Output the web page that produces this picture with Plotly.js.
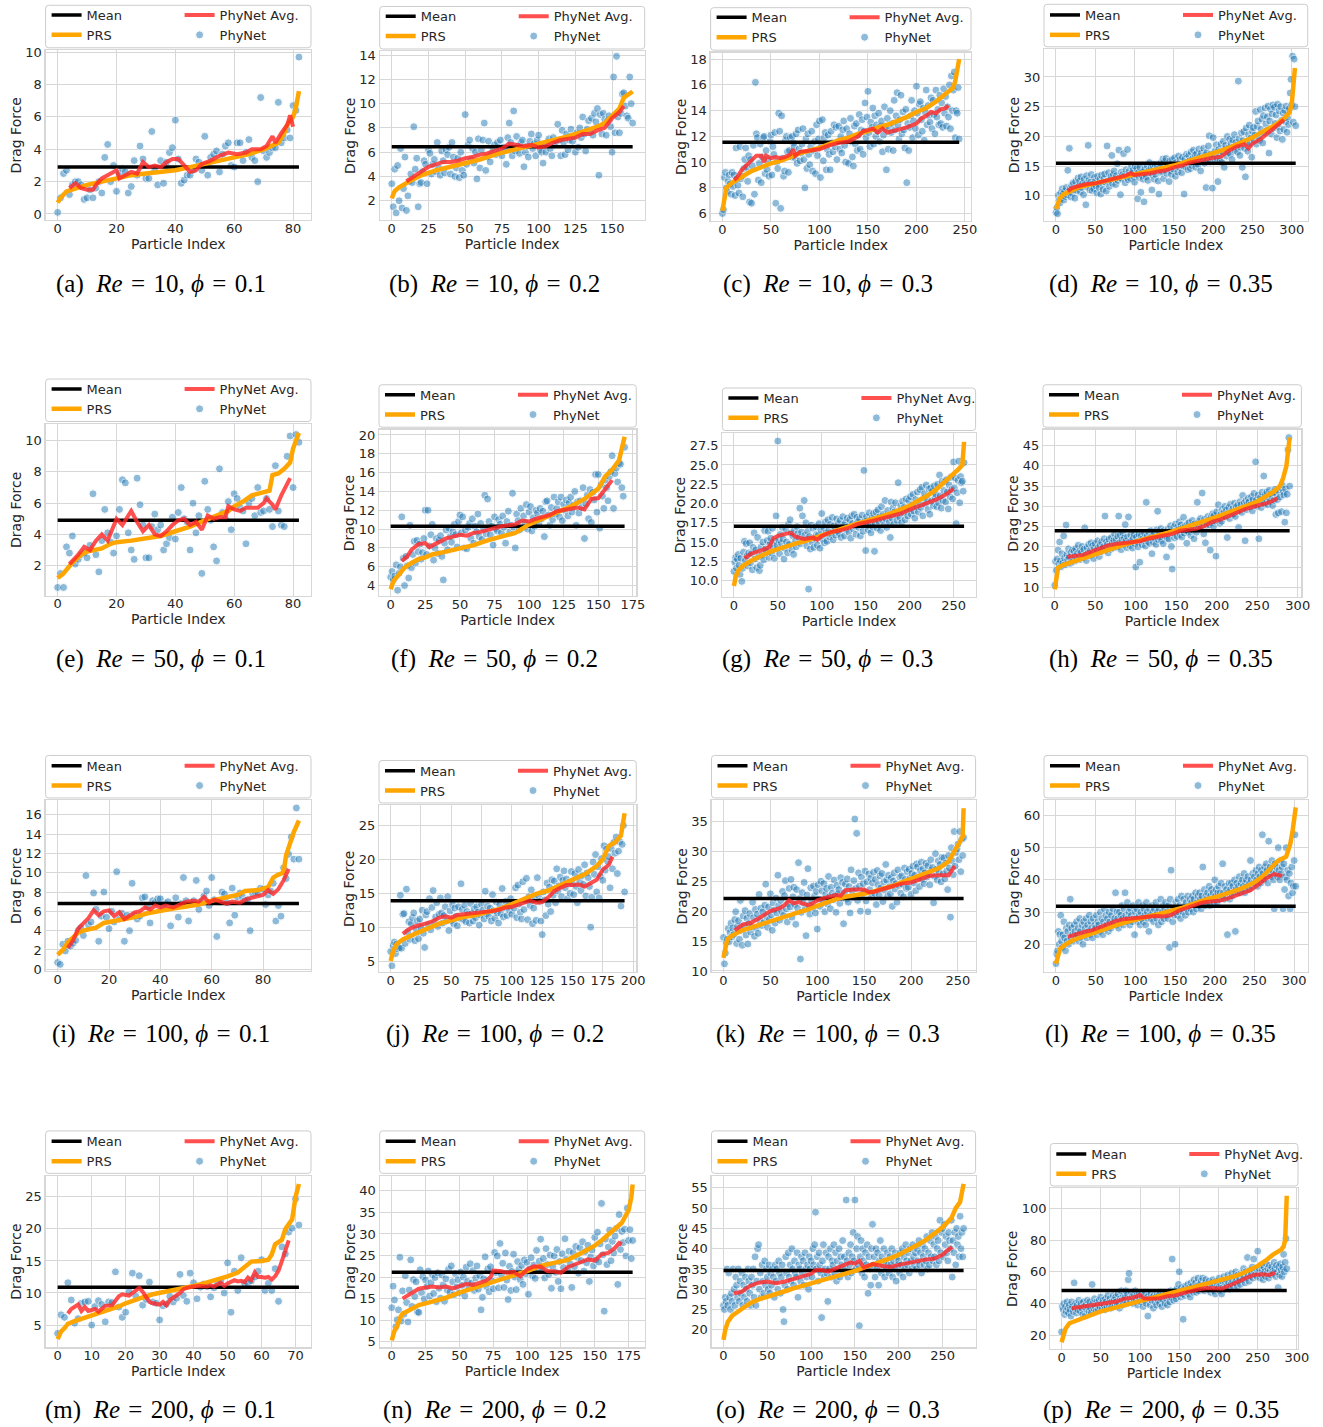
<!DOCTYPE html>
<html><head><meta charset="utf-8">
<script src="https://cdn.plot.ly/plotly-3.0.1.min.js"></script>
<style>body{margin:0;background:#fff}#chart{width:1323px;height:1427px}</style>
</head><body><div id="chart"></div>
<script>
// ---------------- DATA ----------------
const panel_letters = ['a','b','c','d','e','f','g','h','i','j','k','l','m','n','o','p'];
const panel_re = [10,10,10,10,50,50,50,50,100,100,100,100,200,200,200,200];
const panel_phi = ['0.1','0.2','0.3','0.35','0.1','0.2','0.3','0.35','0.1','0.2','0.3','0.35','0.1','0.2','0.3','0.35'];
const panel_mean = [2.9,6.45,11.55,15.5,4.9,10.3,17.05,24.0,6.8,13.9,22.1,31.8,10.9,21.1,34.6,48.2];

// (a) Re=10, phi=0.1
const a_phynet = [0.1,1.0,2.5,2.7,1.2,1.8,2.0,2.0,1.8,0.9,1.0,1.5,1.0,1.6,2.0,1.3,3.5,4.3,2.0,3.0,1.4,2.5,2.8,2.6,1.3,1.7,3.3,2.4,4.2,3.4,2.2,2.2,5.1,2.7,1.8,3.3,1.9,3.2,3.8,4.1,5.8,3.4,1.9,2.1,2.4,2.4,2.7,3.4,3.2,2.7,4.8,2.4,3.5,3.7,3.9,2.6,3.7,4.2,4.4,3.0,2.9,4.4,4.4,3.3,3.8,4.6,3.5,3.3,2.0,7.2,3.9,3.5,3.8,4.1,4.1,6.9,4.4,4.7,5.2,4.7,6.7,6.4,9.7];
const a_prs_x = [0,1,3,6,10,15,20,25,30,35,40,45,50,55,60,65,70,75,77,78,80,81,82];
const a_prs_y = [0.7,1.0,1.4,1.6,1.8,2.0,2.2,2.4,2.5,2.6,2.7,2.9,3.1,3.3,3.5,3.7,4.0,4.4,5.0,5.5,6.0,6.6,7.6];
const a_avg_x = [4,6,8,10,12,13,15,18,20,21,23,25,27,29,31,33,35,37,39,41,43,45,47,49,52,55,58,61,64,66,69,71,73,74,76,78,79,80];
const a_avg_y = [1.6,1.9,1.6,1.5,1.5,1.8,2.2,2.5,2.7,2.2,2.4,2.6,2.5,3.2,2.9,3.0,2.9,3.2,3.4,3.4,3.0,2.6,2.7,3.1,3.3,3.6,3.8,3.7,3.8,4.0,4.0,4.2,4.8,4.4,5.0,5.5,6.1,5.4];

// (b) Re=10, phi=0.2
const b_phynet = [3.4,1.5,4.6,1.0,4.9,2.0,6.3,1.4,3.0,5.6,1.2,2.4,3.6,4.2,3.5,8.1,4.6,5.5,1.5,3.4,3.5,4.4,5.3,5.0,3.4,6.2,5.9,4.2,5.0,5.4,4.4,6.8,4.7,4.1,6.1,5.3,4.3,6.2,5.8,6.4,4.2,6.8,5.6,4.0,4.7,5.5,3.9,6.0,4.5,4.1,9.1,5.0,6.6,7.0,5.4,6.3,5.1,6.0,3.8,7.1,4.7,6.2,7.0,8.4,4.5,5.6,6.9,5.2,5.9,6.3,6.6,5.8,6.8,6.0,7.0,5.7,6.4,6.2,5.0,7.2,8.4,6.8,5.7,9.4,6.1,7.3,6.5,5.9,6.8,7.0,4.8,6.0,6.5,5.6,6.9,7.5,6.3,6.7,5.7,7.0,7.4,6.2,6.0,5.1,6.6,6.0,6.8,7.1,6.3,5.7,7.2,6.6,6.9,8.3,7.0,5.7,7.8,6.8,5.8,7.5,6.2,7.0,7.9,6.9,7.3,6.0,7.6,6.4,8.0,7.2,8.9,7.5,6.1,7.9,8.6,7.7,8.8,7.4,9.2,8.5,9.6,4.1,9.1,7.5,9.2,8.7,7.4,8.6,9.0,8.1,6.0,12.2,7.6,13.9,8.9,7.6,9.2,10.8,10.9,9.8,9.0,8.8,12.2,10.0,8.4];
const b_prs_x = [0,2,5,10,15,20,25,30,40,50,60,70,80,90,100,110,120,130,140,145,150,155,158,162,164];
const b_prs_y = [2.2,2.8,3.1,3.5,3.8,4.1,4.3,4.5,4.8,5.1,5.4,5.8,6.1,6.4,6.7,7.0,7.3,7.7,8.1,8.4,9.0,9.6,10.5,10.9,11.0];
const b_avg_x = [10,15,20,25,30,35,40,45,50,55,60,65,70,75,80,85,90,95,100,105,110,115,120,125,130,135,140,145,150,155,158];
const b_avg_y = [3.6,4.0,4.4,4.8,5.0,5.2,5.2,5.3,5.5,5.6,5.8,5.9,6.1,6.3,6.7,6.6,6.5,6.6,6.4,6.5,6.8,7.0,7.1,7.2,7.5,7.5,7.8,8.0,8.8,9.3,9.8];

// (c) Re=10, phi=0.3
const c_phynet = [6.0,6.3,8.8,9.2,8.0,7.7,8.5,9.0,8.3,7.5,9.2,8.1,9.0,7.4,11.1,8.7,8.2,7.6,11.2,8.7,8.9,7.3,9.5,10.2,11.1,9.6,8.5,10.5,6.9,10.2,6.8,9.7,11.3,7.5,16.2,12.2,11.9,8.6,9.9,11.4,8.4,10.4,11.9,12.0,9.1,10.9,9.4,10.2,8.9,11.6,12.1,9.0,11.2,10.6,12.3,6.8,10.0,9.5,13.8,12.4,6.4,13.6,10.3,8.9,9.3,11.7,12.0,10.8,9.2,10.9,11.9,10.4,12.0,11.5,11.2,10.3,12.2,9.9,12.5,11.0,10.1,10.7,11.4,12.6,10.2,8.0,11.8,9.5,12.2,10.6,9.8,11.2,12.4,9.3,10.9,11.6,9.1,12.9,10.5,11.8,13.2,8.8,11.3,13.3,10.1,11.9,12.3,9.4,11.0,12.1,10.6,9.4,12.4,11.5,10.8,12.9,11.2,12.7,10.2,11.6,12.8,11.0,12.0,10.7,12.5,13.2,11.3,10.0,12.6,11.8,9.9,12.2,13.4,11.6,10.4,9.7,12.8,11.4,13.0,10.9,12.1,13.7,11.0,12.5,13.3,10.6,12.4,14.6,11.9,13.5,15.5,12.3,11.2,13.1,12.7,14.2,11.4,13.6,12.0,12.9,12.4,13.8,11.6,12.8,13.2,10.8,12.1,14.3,12.6,9.4,13.4,11.0,12.7,14.0,12.3,13.0,10.9,14.8,12.5,13.6,15.4,12.9,11.8,13.3,15.2,12.2,13.9,12.5,11.1,14.1,8.4,13.0,10.9,12.7,13.6,14.8,11.9,13.2,14.0,12.6,15.9,13.8,12.1,14.5,14.7,13.3,12.4,14.2,11.7,13.9,15.6,12.9,14.4,13.6,13.1,15.0,12.6,14.8,13.7,12.2,15.6,13.5,14.1,12.9,15.2,13.0,14.6,12.7,15.7,13.8,15.1,12.8,14.3,13.5,16.0,12.6,16.7,14.0,15.6,17.0,11.9,14.0,13.8,15.8,11.8];
const c_prs_x = [0,2,4,10,20,30,40,50,60,70,80,90,100,110,120,130,140,150,160,170,180,190,200,210,220,230,238,240,242,244];
const c_prs_y = [6.2,7.0,8.0,8.4,8.9,9.3,9.6,9.9,10.1,10.4,10.7,10.9,11.1,11.4,11.7,11.9,12.2,12.4,12.7,12.9,13.2,13.5,13.9,14.2,14.7,15.3,15.8,16.3,17.0,18.0];
const c_avg_x = [12,15,20,25,30,35,40,43,45,50,55,60,65,70,73,75,80,90,100,110,120,130,135,140,145,150,155,160,165,170,175,180,190,200,205,210,215,220,225,230,233];
const c_avg_y = [8.6,8.8,9.4,9.8,10.1,10.5,10.5,10.0,10.5,10.3,10.4,10.3,10.4,10.6,11.0,10.5,10.8,10.9,11.0,11.3,11.5,11.6,11.8,12.0,12.4,12.5,12.6,12.3,12.6,12.3,12.4,12.5,12.7,13.0,13.4,13.6,13.9,13.8,14.1,14.2,14.4];

// (d) Re=10, phi=0.35
const d_phynet = [7.2,8.0,7.0,10.1,9.2,8.8,10.5,9.6,11.2,10.3,9.3,10.8,9.9,11.4,10.2,14.3,10.6,18.0,11.1,9.8,11.8,10.4,12.2,11.0,9.6,12.4,11.3,10.9,13.0,11.6,12.5,10.7,13.2,11.4,12.1,10.2,12.8,11.9,8.5,13.4,11.5,18.5,12.6,11.0,12.3,13.6,10.9,12.0,11.2,13.1,12.4,11.7,10.5,13.3,12.0,11.4,12.8,10.3,13.5,12.2,11.1,12.9,13.7,12.3,10.8,18.4,12.5,13.9,11.6,12.7,13.3,16.8,12.1,13.6,14.2,12.8,11.9,13.4,15.4,12.6,17.7,13.0,10.2,14.0,12.9,13.6,17.1,13.3,12.2,14.4,13.1,17.8,12.7,14.1,13.5,12.9,15.0,13.8,14.3,13.2,12.3,15.0,13.6,14.6,9.5,13.9,13.1,14.8,10.6,13.4,14.0,12.8,9.0,14.5,13.7,13.2,15.1,12.6,14.2,15.6,13.9,14.7,11.0,13.5,14.9,12.8,15.3,13.6,14.4,15.1,12.5,10.3,14.8,15.5,13.9,14.1,16.2,12.9,15.8,14.4,16.3,13.8,15.1,14.7,12.4,15.9,14.2,13.6,16.1,15.0,14.5,16.4,13.3,15.6,15.2,14.0,16.7,14.8,16.1,15.3,13.9,16.5,15.0,10.3,16.2,14.9,17.0,15.7,14.4,16.8,15.9,14.6,17.4,15.1,16.3,17.7,15.4,16.9,14.8,17.1,16.0,15.3,17.9,16.6,14.2,17.2,15.8,16.4,18.0,15.5,16.9,11.4,17.3,16.1,18.4,20.1,15.7,17.0,16.5,11.3,19.8,16.8,17.5,15.9,18.6,16.3,12.4,17.8,17.1,16.0,18.7,15.6,17.4,19.2,14.8,17.9,18.5,16.7,20.0,17.3,18.1,19.5,17.0,18.8,16.1,19.4,18.2,20.3,17.6,19.0,18.5,17.4,29.3,19.6,16.8,18.2,20.6,14.8,19.3,20.8,18.0,13.2,21.4,19.0,17.5,20.3,21.9,18.8,19.7,16.5,20.9,21.5,19.4,20.2,24.2,18.7,21.7,22.6,20.0,19.3,24.5,21.2,22.9,18.9,23.5,20.6,24.8,22.1,21.0,23.3,25.1,17.2,22.6,24.6,20.4,23.8,25.3,21.4,24.9,22.2,23.6,19.8,25.4,21.6,24.3,20.9,25.0,22.7,19.5,23.9,21.2,24.4,22.5,25.1,20.7,23.0,22.0,24.7,27.3,29.6,25.3,33.5,22.4,33.0,25.0,21.8];
const d_prs_x = [0,2,5,10,20,30,40,50,60,70,80,90,100,110,120,130,140,150,160,170,180,190,200,210,220,230,240,250,260,270,280,290,297,300,302,304];
const d_prs_y = [7.8,8.5,9.6,10.3,11.0,11.5,11.8,12.1,12.4,12.7,13.0,13.3,13.6,13.9,14.1,14.4,14.7,15.1,15.5,15.9,16.3,16.7,17.2,17.6,18.1,18.6,19.2,19.8,20.6,21.3,22.0,23.0,24.0,25.5,28.0,31.5];
const d_avg_x = [15,20,30,40,50,60,70,80,90,95,100,110,120,130,140,150,160,170,180,190,200,210,220,230,240,245,250,260,270,280,290];
const d_avg_y = [10.8,11.3,11.7,12.0,12.1,12.4,12.8,13.1,13.5,13.8,13.5,13.6,13.8,14.1,14.3,14.8,15.1,15.6,15.9,16.2,16.4,16.6,17.6,18.3,18.7,18.0,18.8,19.5,20.6,21.7,22.8];

// (e) Re=50, phi=0.1
const e_phynet = [0.6,1.5,0.6,3.2,2.8,3.9,2.1,2.4,2.7,2.8,2.5,3.3,6.6,2.7,1.6,3.6,5.6,4.1,3.5,2.8,3.9,5.6,7.5,7.3,4.1,3.0,2.4,7.6,5.9,4.6,2.5,2.5,4.5,5.3,4.3,4.6,3.0,3.4,3.8,5.1,3.7,5.4,7.0,5.0,4.8,3.0,6.0,4.1,5.2,1.5,7.4,5.6,4.9,3.2,2.3,8.2,5.4,5.0,6.1,4.3,6.6,6.3,5.7,5.5,3.4,6.0,6.3,5.2,7.0,5.4,5.5,6.3,5.6,4.5,8.4,5.5,4.6,4.5,9.0,10.3,7.0,10.4,9.9];
const e_prs_x = [0,2,5,8,10,15,18,20,25,28,30,35,40,45,50,55,58,60,63,66,70,72,73,75,77,79,80,81,82];
const e_prs_y = [1.2,1.5,2.2,2.7,2.9,3.1,3.4,3.5,3.6,3.7,3.8,3.9,4.2,4.5,4.9,5.3,5.5,5.8,6.1,6.5,6.7,6.8,7.8,7.9,8.2,8.6,9.5,10.0,10.5];
const e_avg_x = [4,7,9,11,13,15,17,19,20,22,25,27,29,31,33,35,37,39,41,43,45,47,49,51,53,55,57,58,60,62,64,66,68,70,71,73,74,76,78,79];
const e_avg_y = [2.1,2.7,3.2,3.0,3.6,4.0,3.6,4.6,5.0,4.6,5.5,4.8,4.2,4.6,4.0,3.9,4.2,4.6,4.9,5.0,4.6,4.8,4.3,5.2,5.0,5.1,5.1,5.8,5.6,5.5,5.7,5.7,5.7,6.0,6.3,5.9,5.6,6.5,7.3,7.6];

// (f) Re=50, phi=0.2
const f_phynet = [4.9,5.5,4.6,5.0,6.2,3.5,5.3,6.0,11.3,6.9,4.0,7.1,6.1,4.8,10.4,5.9,7.3,8.7,6.4,8.8,7.6,8.4,6.8,7.5,9.0,12.0,7.3,12.0,8.2,9.4,10.5,6.7,8.0,9.0,7.4,8.8,9.3,7.1,4.6,8.5,9.9,7.8,10.1,9.2,8.6,9.7,10.5,9.4,8.1,10.8,11.5,9.6,11.3,8.0,9.9,7.9,10.2,10.6,9.0,11.1,8.5,10.3,9.7,11.6,9.2,10.6,8.9,10.1,13.6,9.5,13.2,10.8,9.4,10.3,8.3,11.3,10.0,9.8,11.0,10.5,9.6,11.4,10.2,8.5,10.8,11.9,9.7,10.4,13.8,10.2,8.0,11.6,10.9,9.9,12.2,10.1,11.4,10.7,12.6,10.0,11.8,12.4,9.8,11.2,10.3,12.0,11.7,10.6,12.2,11.1,11.9,9.2,12.9,13.0,11.5,10.4,12.3,11.0,13.4,11.6,12.2,12.9,11.3,13.4,10.9,12.6,12.0,13.1,11.4,12.8,13.4,11.8,12.5,14.0,10.4,12.9,11.7,13.0,12.3,14.4,9.0,12.7,13.6,11.1,14.2,10.7,13.9,13.1,15.8,11.8,15.8,10.1,14.7,13.5,12.2,15.2,14.4,13.0,15.6,16.1,17.8,12.2,15.9,16.5,15.0,17.0,16.9,14.4,13.5,18.7];
const f_prs_x = [0,2,5,10,15,20,25,30,40,50,60,70,80,90,100,110,120,130,140,150,155,160,165,169];
const f_prs_y = [3.6,4.5,5.0,5.9,6.4,6.8,7.0,7.3,7.6,7.9,8.3,8.8,9.2,9.6,10.5,11.1,11.8,12.4,13.2,14.3,15.6,16.3,17.3,19.8];
const f_avg_x = [8,12,15,20,25,28,32,35,40,45,50,55,60,65,70,75,80,85,90,95,100,105,110,115,120,125,130,135,140,145,150,155,160];
const f_avg_y = [6.6,7.1,7.8,8.4,8.5,8.1,8.4,8.6,9.0,9.2,9.4,9.3,9.6,9.7,9.9,10.2,10.3,10.4,10.5,10.9,10.8,11.1,11.3,11.5,11.9,12.0,12.1,12.3,12.1,13.2,13.3,14.2,15.2];

// (g) Re=50, phi=0.3
const g_phynet = [11.2,12.4,13.0,11.6,12.8,13.4,12.0,10.8,12.9,9.9,11.6,13.7,15.1,12.6,14.8,13.2,11.9,13.6,14.9,12.3,13.5,11.4,14.3,16.2,12.8,14.0,11.7,15.6,13.1,11.3,12.0,14.4,13.3,15.0,12.7,16.5,14.1,13.8,15.2,16.4,13.0,14.7,15.5,13.6,16.8,14.3,12.9,15.1,18.4,14.6,28.1,15.3,13.5,16.0,14.9,16.9,15.4,12.8,14.2,16.7,15.0,13.6,17.3,14.7,17.9,16.2,14.0,15.8,13.4,16.6,15.1,14.4,17.0,16.1,15.6,19.4,14.8,16.3,18.4,15.2,20.4,15.9,17.5,14.5,16.4,8.9,15.7,14.1,17.2,15.0,16.8,14.3,15.5,17.0,16.0,14.6,15.9,17.4,14.2,16.6,18.7,15.4,16.9,14.9,17.6,16.2,15.1,17.9,16.5,15.7,17.3,16.0,18.2,15.3,17.1,16.8,15.9,18.0,16.4,17.4,16.1,17.8,15.6,16.9,18.3,17.2,15.8,17.5,16.6,18.1,17.0,16.3,17.9,15.5,18.4,17.4,16.7,18.6,17.1,16.0,18.2,17.6,16.9,18.0,15.8,17.3,18.5,16.4,24.3,17.7,13.9,18.3,17.2,16.6,18.8,17.5,16.2,18.1,17.0,18.7,13.8,17.4,18.9,16.8,19.2,17.7,18.3,16.5,19.6,17.9,18.6,17.2,20.4,18.0,16.9,19.1,18.4,17.6,15.6,20.2,18.1,19.4,17.3,18.9,20.1,18.5,17.8,22.7,19.0,18.2,19.7,17.5,20.3,18.8,19.5,17.9,20.6,19.2,18.4,20.4,19.3,20.9,18.6,19.8,21.2,19.0,18.1,20.5,19.6,21.5,18.9,20.2,21.8,19.5,22.1,18.4,20.7,21.3,19.9,22.4,20.6,19.2,21.9,18.6,22.0,20.3,21.6,19.7,22.3,20.8,21.2,19.6,22.5,20.1,23.7,21.0,19.4,22.9,20.4,21.7,22.8,20.2,23.1,21.5,19.3,22.4,20.9,23.4,21.8,20.6,25.4,22.0,23.3,17.4,21.4,23.0,25.5,20.1,23.5,22.7,22.9,21.6,25.3];
const g_prs_x = [0,2,5,10,20,30,40,50,60,70,80,90,100,110,120,130,140,150,160,170,180,190,200,210,220,230,240,250,256,260,262];
const g_prs_y = [9.3,10.5,11.3,11.9,12.6,13.2,13.7,14.1,14.5,14.8,15.1,15.5,15.8,16.2,16.6,17.0,17.4,17.7,18.0,18.4,18.8,19.2,19.7,20.4,21.0,21.8,22.8,23.8,24.5,25.0,28.0];
const g_avg_x = [12,20,30,40,45,50,60,65,70,75,80,90,95,100,110,120,130,140,150,160,170,180,190,200,210,220,230,240,250];
const g_avg_y = [12.9,13.5,13.9,14.3,15.5,15.8,16.1,16.2,15.7,15.5,15.4,15.6,15.3,15.8,16.3,16.5,16.8,17.3,17.5,17.8,18.1,18.4,18.7,19.2,19.6,20.1,20.5,21.1,21.9];

// (h) Re=50, phi=0.35
const h_phynet = [10.5,16.4,14.2,17.0,19.2,15.8,21.2,16.5,15.1,18.3,16.0,22.7,17.2,15.6,25.4,18.1,16.8,19.5,17.4,15.9,18.6,17.0,19.2,16.4,18.9,17.7,19.6,16.7,18.3,20.4,17.5,19.0,16.9,18.7,20.1,17.3,19.4,24.7,18.0,16.6,19.8,18.4,20.6,17.8,19.1,21.0,18.2,20.3,17.1,19.7,20.8,18.6,19.3,21.5,19.9,17.6,20.4,18.8,21.2,19.6,20.0,22.0,27.6,19.2,21.3,20.6,18.5,21.9,20.2,19.4,22.3,20.9,19.7,21.6,23.2,20.4,21.8,19.9,22.6,27.6,21.0,22.8,19.3,21.7,23.5,20.6,22.2,25.5,21.4,19.8,22.5,27.4,21.1,20.3,22.9,21.6,19.7,22.1,23.0,20.8,15.0,22.4,21.2,20.0,23.1,16.2,21.7,22.8,20.5,22.0,21.5,23.4,20.2,31.0,22.6,21.3,23.7,20.9,22.3,24.0,18.3,22.8,21.1,23.5,22.0,20.6,24.2,28.8,21.8,23.0,22.4,24.5,21.5,23.3,20.8,24.0,22.7,23.6,17.5,22.1,24.4,21.9,23.8,25.2,20.1,14.5,23.5,24.8,22.2,25.6,23.9,22.6,25.0,24.3,26.2,23.0,25.4,22.4,24.7,27.3,23.4,25.1,24.0,20.9,25.8,23.7,26.0,24.6,22.8,25.3,26.5,24.1,22.0,25.7,24.4,23.6,31.0,24.9,26.3,25.0,27.0,24.6,33.3,25.9,23.2,26.8,21.0,26.1,25.3,27.5,26.6,25.4,19.2,27.3,26.0,28.2,25.1,27.8,26.4,17.7,28.7,26.9,30.4,27.1,25.8,28.0,26.3,29.3,27.6,28.5,30.0,27.4,29.1,22.3,28.3,29.7,27.0,30.5,28.6,27.9,29.4,28.1,30.8,27.5,29.9,28.8,30.3,24.8,29.0,31.2,30.4,28.5,32.7,29.6,30.9,21.5,31.4,29.2,30.7,32.0,31.1,29.8,30.4,32.4,28.9,31.7,33.2,30.3,41.0,31.6,30.0,32.8,22.0,31.3,32.2,29.7,33.5,31.0,37.5,30.6,32.9,31.8,33.6,30.4,32.1,34.0,31.2,33.1,32.6,30.2,33.4,31.5,34.2,28.0,33.0,31.7,28.4,33.8,32.3,34.6,28.7,35.2,33.5,32.8,26.1,34.3,28.4,33.0,44.0,47.0,35.0];
const h_prs_x = [0,2,4,10,20,30,40,50,60,70,80,90,100,110,120,130,140,150,160,170,180,190,200,210,220,230,240,250,260,270,278,282,286,288,290];
const h_prs_y = [9.5,13.0,14.8,15.5,16.2,16.9,17.6,18.3,19.0,19.6,20.2,20.8,21.3,21.8,22.4,23.0,23.5,24.1,24.7,25.3,26.0,26.7,27.4,28.1,28.8,29.6,30.4,31.2,32.5,33.6,35.0,37.0,40.0,44.0,47.0];
const h_avg_x = [15,25,35,45,55,65,75,85,95,105,115,125,135,145,155,165,175,185,195,205,215,225,235,245,255,265,275];
const h_avg_y = [17.5,17.8,18.0,18.8,19.5,20.3,20.7,21.0,21.2,21.4,22.0,22.5,22.8,23.2,24.0,24.2,24.5,25.2,26.2,26.8,27.7,28.5,29.3,29.9,30.5,31.0,32.0];

// (i) Re=100, phi=0.1
const i_phynet = [0.7,0.5,2.6,1.9,2.9,2.4,2.7,3.0,4.0,4.3,3.5,9.7,4.6,4.9,7.9,6.2,2.9,5.5,8.0,5.4,4.2,6.0,4.9,10.1,5.2,5.8,2.9,5.6,4.0,8.9,5.6,5.2,5.5,7.4,7.5,6.5,4.8,7.1,6.9,7.3,7.3,6.5,6.8,7.0,4.5,6.6,7.4,5.4,6.8,9.5,7.1,5.0,6.8,7.1,9.2,6.2,7.0,7.6,8.1,6.6,9.5,7.2,3.4,7.0,8.0,7.8,6.9,4.8,8.4,5.6,7.5,7.9,7.5,7.1,7.2,4.0,7.8,8.0,7.9,8.4,8.3,6.7,7.7,8.1,8.9,5.0,6.6,5.5,10.5,9.4,11.9,13.7,11.4,16.7,11.4];
const i_prs_x = [0,2,4,6,8,10,12,15,18,20,25,30,35,40,45,50,55,60,65,70,73,78,82,84,86,88,89,90,92,94];
const i_prs_y = [1.5,2.0,2.8,3.3,3.8,4.0,4.1,4.3,4.8,4.9,5.1,5.4,5.8,6.1,6.3,6.5,6.7,7.1,7.4,7.7,8.1,8.2,8.5,9.5,9.8,10.0,11.8,12.6,14.2,15.4];
const i_avg_x = [4,6,8,10,12,14,16,18,20,22,24,26,28,30,32,34,36,38,40,42,45,48,50,53,55,57,59,61,63,66,68,71,74,77,80,82,84,86,88,90];
const i_avg_y = [2.2,3.0,4.2,4.8,5.3,6.1,5.6,6.0,6.1,5.5,5.9,5.2,5.5,5.9,6.0,6.4,6.2,6.6,6.4,6.6,6.4,6.7,7.0,7.1,7.0,7.5,6.9,7.2,7.0,6.8,7.0,6.9,7.3,7.5,7.7,8.2,7.8,8.3,9.2,10.4];

// (j) Re=100, phi=0.2
const j_phynet = [6.4,4.3,7.3,7.8,6.1,7.5,6.8,7.0,14.7,6.9,11.9,12.0,7.6,15.6,9.3,10.8,8.2,10.5,11.4,12.1,8.0,9.7,10.9,8.3,11.2,10.0,12.5,9.1,7.0,11.8,12.3,10.4,14.2,9.6,12.9,15.4,10.7,11.5,13.6,10.1,11.9,14.3,12.1,10.6,11.7,13.0,10.9,14.5,9.5,12.4,11.0,13.3,10.5,12.8,11.6,10.2,13.0,11.3,16.4,12.6,11.1,13.2,10.8,12.3,11.9,10.6,13.5,12.0,10.9,12.7,11.4,13.0,12.2,10.3,11.8,13.4,12.5,11.2,15.3,12.0,13.1,11.6,12.8,10.9,14.8,12.4,11.3,13.7,12.1,10.6,13.3,12.0,15.7,11.5,12.9,13.8,11.7,13.1,12.5,14.2,11.9,13.6,12.8,15.8,11.4,16.2,13.4,12.2,11.2,16.7,12.6,13.9,17.2,11.1,14.5,13.2,15.5,10.5,12.8,14.1,11.0,17.3,14.6,13.8,10.9,8.9,15.2,14.0,11.7,16.5,13.4,15.9,12.3,17.0,14.7,16.8,13.6,18.6,15.3,16.1,17.4,14.5,16.9,18.3,15.8,17.1,14.2,16.6,15.0,18.2,16.4,14.8,17.9,16.0,13.6,18.5,16.7,15.4,17.6,16.3,19.2,14.6,18.0,17.3,16.0,10.0,14.4,19.6,17.8,20.7,15.2,18.9,14.3,17.5,20.1,16.9,22.0,18.4,21.5,19.7,20.4,15.8,21.6,18.6,22.5,20.9,23.3,17.9,21.2,22.6,13.1,22.2,25.0,15.2];
const j_prs_x = [0,2,5,10,20,30,40,50,60,70,80,90,100,110,120,130,140,150,160,170,175,180,185,190,193];
const j_prs_y = [5.0,6.5,7.5,8.2,9.0,9.8,10.5,11.0,11.5,11.8,12.2,12.7,13.4,14.1,14.9,15.4,16.2,17.0,17.8,19.0,20.0,22.0,22.5,23.5,26.8];
const j_avg_x = [10,15,20,25,30,35,40,45,50,55,60,65,70,75,80,85,90,95,100,105,110,115,120,125,130,135,140,145,150,155,160,165,170,175,180,183];
const j_avg_y = [9.0,9.7,10.1,10.3,10.6,10.9,11.4,11.6,11.4,11.8,11.9,11.9,12.1,12.1,12.3,12.4,12.6,12.9,13.0,13.3,13.5,13.9,13.6,13.7,14.4,15.3,15.8,16.2,16.2,16.3,16.0,16.5,17.0,18.5,19.2,20.4];

// (k) Re=100, phi=0.3
const k_phynet = [15.6,11.2,13.0,14.8,15.3,17.1,14.9,16.4,18.0,15.7,17.2,16.1,18.6,19.9,14.6,17.5,18.4,15.3,21.8,16.8,14.3,19.2,17.6,20.1,16.0,18.8,14.5,17.9,19.6,16.5,17.4,21.5,18.9,15.8,20.3,17.2,19.5,16.3,22.8,18.4,20.5,17.6,19.9,18.1,21.0,24.5,19.1,17.3,20.7,18.6,22.9,19.4,16.8,21.4,20.2,18.0,22.2,19.7,26.0,20.9,18.5,21.8,20.0,23.3,19.3,22.6,25.1,20.4,18.2,21.2,23.8,20.7,25.3,19.0,22.4,24.0,21.1,17.8,23.6,20.5,28.1,22.1,12.0,19.8,23.1,21.4,24.8,20.3,15.9,22.7,27.1,21.0,19.5,23.9,21.7,20.6,24.2,22.5,19.7,23.3,17.0,24.4,22.0,20.8,25.0,23.4,21.6,24.6,19.9,22.8,23.8,21.2,25.8,22.4,20.4,24.0,23.0,21.9,25.2,22.6,19.8,24.3,22.9,23.6,21.3,25.6,22.2,24.8,17.9,23.1,24.5,22.0,25.4,21.5,24.1,19.7,26.9,23.4,22.3,25.1,35.4,23.8,33.0,21.8,26.4,24.2,20.0,25.7,22.9,24.6,23.2,26.7,21.7,24.9,19.9,26.2,23.6,25.5,22.4,24.7,26.5,23.0,25.3,21.1,26.8,24.4,22.7,25.9,23.9,26.3,21.6,24.9,23.5,27.8,25.2,22.5,26.0,24.1,22.9,25.6,20.8,25.0,26.4,23.7,24.6,21.5,26.9,24.3,25.7,23.0,25.9,24.5,22.4,27.2,25.3,23.8,26.6,24.0,27.0,25.5,22.8,26.3,27.5,24.7,26.0,23.4,27.9,27.4,25.6,24.1,26.8,28.2,25.3,27.1,24.6,26.4,28.0,25.7,27.6,26.1,24.4,28.6,26.9,27.3,21.4,25.8,29.6,27.0,25.2,28.4,26.5,27.8,24.9,29.0,26.2,28.9,25.4,28.0,26.7,23.6,29.3,27.2,19.0,30.6,28.4,26.1,33.3,27.5,29.8,30.4,31.2,28.6,33.3,26.6,32.0,29.3,32.3];
const k_prs_x = [0,2,4,10,20,30,40,50,60,70,80,90,100,110,120,130,140,150,160,170,180,190,200,210,220,230,240,248,253,255,256];
const k_prs_y = [12.2,14.0,15.3,16.0,16.8,17.3,17.8,18.3,18.8,19.3,19.7,20.3,20.9,21.5,22.0,22.4,22.6,22.9,23.3,23.7,24.2,24.8,25.4,25.9,26.6,27.2,28.3,30.5,31.5,32.4,37.2];
const k_avg_x = [12,20,30,40,50,60,65,70,75,80,90,95,100,110,120,125,130,140,150,155,160,170,180,190,200,210,220,230,240,245,247];
const k_avg_y = [16.8,17.7,18.1,19.0,20.0,20.5,21.0,21.8,21.3,21.5,21.0,21.3,21.8,22.3,22.7,22.6,23.5,23.6,23.6,23.2,23.2,23.7,24.2,24.6,24.8,25.3,25.9,26.0,26.0,27.2,27.5];

// (l) Re=100, phi=0.35
const l_phynet = [14,17,18,24,20,23,29,21,19,23,27,22,18,25,21,24,20,26,34,22,25,23,21,26,24,22,27,23,25,21,28,24,22,26,20,27,23,25,28,22,26,24,29,23,27,25,22,28,24,26,25,29,23,27,26,24,30,25,28,23,27,31,25,29,26,28,24,30,27,25,29,26,31,27,28,36,26,30,28,25,30,27,29,32,28,26,31,36,29,27,33,28,30,26,31,29,27,32,28,23,30,28,31,27,33,29,26,30,28,32,27,31,29,26,33,30,28,24,31,29,28,32,30,27,31,29,33,28,30,26,31,29,34,27,30,32,28,31,33,29,30,28,32,19,34,43,30,27,31,29,20,33,31,29,34,30,32,28,35,31,30,34,32,29,33,31,35,30,32,34,31,33,35,30,34,32,36,31,33,35,32,36,34,31,35,44,33,37,32,35,34,36,33,38,32,35,37,34,36,33,40,35,37,33,36,38,34,36,39,35,45,36,34,38,35,37,23,36,39,34,37,39,35,38,36,40,24,37,39,36,38,41,36,39,37,40,38,42,36,39,40,38,41,37,39,46,40,38,42,39,41,39,43,40,38,42,44,41,39,43,54,42,40,44,41,45,43,39,52,42,44,41,46,43,40,31,45,42,44,41,50,43,40,46,42,44,31,45,37,41,50,40,43,35,42,31,39,44,36,38,46,54,38];
const l_prs_x = [0,2,5,10,20,30,40,50,60,70,80,90,100,110,120,130,140,150,160,170,180,190,200,210,220,230,240,250,260,270,280,290,295,298,300,302];
const l_prs_y = [14.0,16.5,18.5,19.6,21.1,22.1,23.0,23.9,24.7,25.5,26.3,27.0,27.7,28.3,28.9,29.4,30.0,30.7,31.4,32.3,33.2,34.0,34.6,35.3,36.0,37.0,38.0,39.2,41.0,43.5,46.0,47.2,51.0,55.0,60.0,62.5];
const l_avg_x = [15,25,35,45,55,65,75,85,95,105,115,125,135,145,155,165,175,185,195,205,215,225,235,245,255,265,275,285];
const l_avg_y = [22.3,23.2,23.8,24.3,25.3,26.5,27.2,27.8,28.0,28.4,28.6,28.8,28.6,29.1,30.5,31.3,32.3,33.0,33.3,33.5,34.1,35.0,35.8,36.8,38.5,40.5,41.8,41.2];

// (m) Re=200, phi=0.1
const m_phynet = [3.7,6.6,6.2,11.6,8.9,5.3,6.0,8.4,8.6,8.7,5.0,7.9,8.8,8.2,5.5,8.6,8.5,13.3,7.8,6.2,7.0,10.2,13.1,9.5,12.7,8.1,9.0,11.7,8.6,8.4,5.8,8.0,8.3,9.5,8.6,9.2,12.9,9.6,8.7,13.1,11.6,9.1,10.9,11.4,11.0,9.4,10.8,11.3,11.9,10.0,14.7,7.0,13.4,10.4,15.5,11.5,11.5,11.9,12.5,13.4,15.2,10.4,11.5,10.4,13.8,8.7,17.2,16.1,19.5,20.1,24.7,20.6];
const m_prs_x = [0,1,2,3,5,8,10,13,15,18,20,23,25,28,30,33,35,38,40,43,45,48,50,53,55,57,60,62,63,64,66,67,69,70,71];
const m_prs_y = [2.8,4.0,4.5,5.2,5.6,6.1,6.5,7.0,7.4,7.9,8.4,9.0,9.3,9.8,10.0,10.3,10.5,10.9,11.1,11.5,11.8,12.3,12.6,13.2,14.1,14.9,15.0,15.2,16.0,17.6,18.3,20.0,21.5,25.0,27.0];
const m_avg_x = [3,4,6,7,8,9,11,12,14,16,18,19,21,23,24,25,27,28,30,31,32,33,34,36,37,38,40,42,44,45,46,48,49,50,52,53,54,55,56,57,58,59,60,61,62,63,64,65,66,67,68];
const m_avg_y = [6.8,7.5,8.2,7.2,7.8,7.2,7.5,7.1,8.0,8.1,9.5,9.8,9.6,10.5,10.8,10.2,8.6,8.4,8.2,8.6,8.1,8.9,9.3,10.0,10.6,10.8,11.0,11.1,11.0,11.2,11.0,11.6,11.1,11.5,12.0,11.8,11.9,11.7,12.4,12.0,13.2,12.5,12.5,12.4,12.5,12.1,12.6,13.5,15.0,16.5,18.2];

// (n) Re=200, phi=0.2
const n_phynet = [12.9,17.9,14.7,8.5,10.1,12.4,24.6,9.8,16.8,11.4,20.3,14.1,9.6,17.0,24.0,13.2,19.4,15.5,18.9,11.9,11.8,21.7,16.4,20.1,14.9,19.3,17.8,21.4,15.6,18.7,20.6,16.2,19.9,14.3,21.0,17.4,15.1,20.5,18.2,14.4,19.6,17.0,21.8,16.5,22.6,18.9,15.9,20.8,17.7,19.4,16.3,21.2,18.1,20.0,15.6,22.3,19.0,17.4,23.1,18.6,21.5,16.9,19.8,22.6,17.2,20.4,12.4,15.3,19.6,24.7,17.8,21.9,16.6,22.4,19.1,17.3,25.7,21.0,24.9,17.5,27.8,20.6,23.2,17.6,25.6,19.3,14.8,22.5,16.9,21.3,25.3,20.0,17.1,23.6,21.8,19.4,22.7,18.3,24.0,20.8,23.4,16.0,21.9,24.5,20.3,22.8,19.7,26.2,22.1,23.7,28.8,21.5,24.3,19.8,26.6,22.9,20.6,25.1,17.4,22.4,24.9,21.1,26.4,19.0,23.6,17.3,25.4,22.2,28.9,24.1,21.7,26.0,23.0,17.6,25.7,22.4,27.1,24.6,20.9,26.8,23.8,28.2,21.4,25.9,23.3,27.4,19.0,24.7,26.3,22.6,29.2,24.0,30.4,23.5,27.7,37.1,25.2,12.1,28.8,22.9,27.0,30.9,23.8,28.3,25.6,29.5,31.3,18.3,34.5,26.4,30.6,28.0,31.1,24.9,36.0,28.5,31.0,24.3,28.5];
const n_prs_x = [0,2,4,6,8,12,20,30,40,50,60,70,80,90,100,110,120,130,140,150,155,160,165,170,175,177,178];
const n_prs_y = [5.3,7.5,8.6,10.5,11.5,12.2,13.5,14.3,15.2,16.4,17.4,18.4,19.3,20.2,21.4,22.6,23.3,24.0,25.6,27.3,28.5,29.8,31.0,32.6,35.5,38.5,41.5];
const n_avg_x = [8,12,15,20,25,30,35,40,45,50,55,60,65,70,73,75,80,85,90,95,100,105,110,115,120,125,130,135,140,145,150,155,160,165,168,170];
const n_avg_y = [15.0,15.7,16.3,17.3,17.6,17.8,17.6,17.8,17.4,18.0,18.4,18.2,18.8,19.2,20.0,21.5,21.4,21.0,21.2,20.2,21.8,22.5,22.4,21.4,21.3,21.0,22.3,23.0,23.5,24.1,23.8,25.3,25.6,26.8,27.9,27.6];

// (o) Re=200, phi=0.3
const o_phynet = [26,25,28,27,35,26,34,28,25,29,27,35,30,26,33,31,28,35,27,32,29,34,26,31,28,33,30,27,35,32,29,26,33,31,35,28,38,26,32,40,41,30,34,28,36,32,29,37,31,35,33,30,36,29,34,31,35,33,28,36,32,35,30,37,34,29,33,36,25,22,31,38,34,30,39,33,36,32,40,35,31,37,34,33,39,28,36,35,32,38,34,37,31,39,35,33,36,30,38,35,37,33,40,36,41,49,35,38,32,39,36,34,23,37,41,33,35,39,34,27,38,35,40,33,37,36,41,34,39,32,37,35,40,33,38,36,42,34,38,35,52,37,33,39,36,41,34,38,44,37,52,35,40,43,36,21,38,42,34,40,37,33,39,36,41,29,38,35,31,40,46,36,38,33,40,35,39,31,37,42,34,38,36,40,33,37,35,39,36,34,38,36,40,33,37,35,39,32,38,36,37,34,39,36,40,33,38,35,41,37,36,39,34,40,37,35,41,38,36,39,35,40,37,42,36,39,34,41,38,36,40,37,43,35,39,36,42,38,44,37,41,38,43,36,40,42,37,47,39,44,45,38,46,41,43,39,37,44,42,40,47,33,42,39,44,36,45,41,43,38,48,40,44,38,45];
const o_prs_x = [0,2,5,10,20,30,40,50,60,70,80,90,100,110,120,130,140,150,160,170,180,190,200,210,220,230,240,250,260,265,270,274];
const o_prs_y = [17.5,20.0,22.0,23.5,25.0,26.5,27.5,28.1,28.8,29.5,30.2,30.8,31.4,32.0,32.6,33.2,33.8,34.5,35.3,36.0,36.8,37.6,38.5,39.5,40.8,42.0,43.5,45.3,47.5,50.0,51.5,56.0];
const o_avg_x = [12,20,30,40,50,60,70,80,90,100,105,110,120,130,140,145,150,155,160,170,180,190,200,210,220,230,240,250,255,261];
const o_avg_y = [29.0,29.3,30.8,31.6,31.9,31.5,31.9,32.5,33.3,33.8,34.7,34.8,34.4,35.2,36.0,36.6,36.3,37.0,35.4,36.2,35.8,35.5,36.0,36.5,37.0,37.3,37.5,38.5,39.5,40.4];

// (p) Re=200, phi=0.35
const p_phynet = [22,38,36,40,33,38,35,41,37,34,39,36,32,41,38,35,53,37,40,34,39,36,42,38,35,40,37,33,41,38,32,39,36,42,38,35,41,37,34,52,40,37,43,38,35,41,39,36,42,38,44,40,37,42,39,36,43,41,38,45,40,38,43,37,41,39,45,42,38,44,41,39,46,40,37,43,48,42,39,45,42,44,48,40,46,55,59,43,41,47,44,40,46,42,48,43,45,39,44,47,43,41,46,44,38,45,42,47,40,44,32,45,43,39,46,42,44,37,45,41,44,39,46,42,45,40,47,43,38,46,42,45,40,47,43,39,46,44,41,48,44,68,46,42,48,45,43,49,46,52,60,47,44,50,46,30,49,45,51,47,48,52,46,50,44,53,48,51,47,55,49,53,47,51,56,48,52,50,54,49,56,51,48,53,55,50,52,49,54,51,47,53,50,55,48,52,46,54,51,49,50,56,48,52,46,54,50,57,49,53,55,51,58,53,49,56,52,59,54,50,57,53,60,55,51,58,54,56,52,59,58,55,62,57,53,60,56,69,58,54,61,57,59,63,56,68,60,58,62,57,73,59,62,56,64,58,61,55,63,60,57,65,59,62,56,64,61,58,63,60,59,66,62,57,64,60,50,63,58,65,61,57,63,71,60,66,81,62];
const p_prs_x = [0,2,5,10,20,30,40,50,60,70,80,90,100,110,120,130,140,150,160,170,180,190,200,210,220,230,240,250,260,270,280,283,285,286,287];
const p_prs_y = [15.5,20.0,24.0,27.5,29.5,31.5,33.5,35.0,36.3,37.5,38.8,40.0,41.3,42.5,44.0,45.4,46.7,48.0,49.3,50.5,51.7,52.9,54.2,55.6,57.1,58.9,61.0,63.7,67.0,71.0,74.0,76.0,80.0,95.0,108.0];
const p_avg_x = [13,20,30,40,50,60,70,80,90,100,105,115,125,135,145,155,165,175,185,195,205,215,225,235,245,255,265,272];
const p_avg_y = [37.0,37.5,38.4,39.3,40.0,40.5,41.2,43.0,43.5,45.3,43.3,43.0,43.3,44.5,45.0,46.5,48.0,49.0,49.8,49.5,49.5,51.5,54.0,56.0,58.0,58.5,58.0,59.5];

// ---------------- LAYOUT / STYLE (not data) ----------------
const W = 1323, H = 1427;
// axes boxes in px: [left, right, top, bottom]
const GEOM = [
  [45.6,311,49.3,219.3],[379.7,644.7,50.5,219.3],[710.6,971,51.7,220],[1044,1307.7,48.3,220],
  [45.6,311,423.3,595],[379,636.3,429,595.7],[722.4,975.6,432.3,596.7],[1043,1301.4,429,596.7],
  [45.6,311,800,970.7],[379,636.3,805,971.7],[711.5,975.6,800,971.7],[1044,1307.7,800,971.7],
  [45.6,311,1175.7,1347.3],[379.7,644.7,1175.7,1347.3],[711.5,975.6,1175.7,1347.3],[1050.3,1298,1188.3,1349]
];
const YRANGE = [
  [-0.38,10.12],[0.4,14.3],[5.43,18.51],[5.8,34.66],
  [0.08,11.07],[2.86,20.56],[7.84,29.15],[7.53,48.95],
  [-0.18,17.48],[3.38,27.95],[9.83,38.5],[11.4,64.65],
  [1.52,28.27],[3.7,43.48],[15.66,57.96],[11.2,112.6]
];
const YDTICK = [2,2,2,5,2,2,2.5,5,2,5,5,10,5,5,5,20];
const XDTICK = [20,25,50,50,20,25,50,50,20,25,50,50,10,25,50,50];
const CAP_X = [160.5,494.5,827.5,1160.5];
const CAP_Y = [283,658,1034,1410];

const DATA = {a:[a_phynet,a_prs_x,a_prs_y,a_avg_x,a_avg_y], b:[b_phynet,b_prs_x,b_prs_y,b_avg_x,b_avg_y],
  c:[c_phynet,c_prs_x,c_prs_y,c_avg_x,c_avg_y], d:[d_phynet,d_prs_x,d_prs_y,d_avg_x,d_avg_y],
  e:[e_phynet,e_prs_x,e_prs_y,e_avg_x,e_avg_y], f:[f_phynet,f_prs_x,f_prs_y,f_avg_x,f_avg_y],
  g:[g_phynet,g_prs_x,g_prs_y,g_avg_x,g_avg_y], h:[h_phynet,h_prs_x,h_prs_y,h_avg_x,h_avg_y],
  i:[i_phynet,i_prs_x,i_prs_y,i_avg_x,i_avg_y], j:[j_phynet,j_prs_x,j_prs_y,j_avg_x,j_avg_y],
  k:[k_phynet,k_prs_x,k_prs_y,k_avg_x,k_avg_y], l:[l_phynet,l_prs_x,l_prs_y,l_avg_x,l_avg_y],
  m:[m_phynet,m_prs_x,m_prs_y,m_avg_x,m_avg_y], n:[n_phynet,n_prs_x,n_prs_y,n_avg_x,n_avg_y],
  o:[o_phynet,o_prs_x,o_prs_y,o_avg_x,o_avg_y], p:[p_phynet,p_prs_x,p_prs_y,p_avg_x,p_avg_y]};

const TXT = '#262626', GRID = '#d7d7d7', FONT = 'DejaVu Sans';
const px2x = v => v / W, px2y = v => 1 - v / H;

function rrect(x0, y0, x1, y1, r) {
  const X = v => px2x(v).toFixed(5), Y = v => px2y(v).toFixed(5);
  return `M${X(x0+r)},${Y(y0)} L${X(x1-r)},${Y(y0)} Q${X(x1)},${Y(y0)} ${X(x1)},${Y(y0+r)} ` +
         `L${X(x1)},${Y(y1-r)} Q${X(x1)},${Y(y1)} ${X(x1-r)},${Y(y1)} L${X(x0+r)},${Y(y1)} ` +
         `Q${X(x0)},${Y(y1)} ${X(x0)},${Y(y1-r)} L${X(x0)},${Y(y0+r)} Q${X(x0)},${Y(y0)} ${X(x0+r)},${Y(y0)} Z`;
}

const traces = [];
const layout = {width: W, height: H, margin: {l:0, r:0, t:0, b:0}, paper_bgcolor:'#fff', plot_bgcolor:'#fff',
  showlegend: true, shapes: [], annotations: [], font: {family: FONT, color: TXT}};

panel_letters.forEach((letter, i) => {
  const [pts, prsX, prsY, avgX, avgY] = DATA[letter];
  const [L, R, T, B] = GEOM[i];
  const sfx = i === 0 ? '' : String(i + 1);
  const xa = 'x' + sfx, ya = 'y' + sfx;
  const legA = i === 0 ? 'legend' : 'legend' + (2 * i + 1);
  const legB = 'legend' + (2 * i + 2);
  const n = pts.length;
  const idx = pts.map((_, k) => k);

  traces.push({type:'scatter', mode:'markers', x: idx, y: pts, xaxis: xa, yaxis: ya, name:'PhyNet',
    legend: legB, legendrank: 2, cliponaxis: true,
    marker: {size: 8, color: '#1f77b4', opacity: 0.5, line: {color: '#ffffff', width: 1}}});
  traces.push({type:'scatter', mode:'lines', x: [0, n - 1], y: [panel_mean[i], panel_mean[i]], xaxis: xa, yaxis: ya,
    name:'Mean', legend: legA, legendrank: 1, line: {color: '#000000', width: 3.5}});
  traces.push({type:'scatter', mode:'lines', x: prsX, y: prsY, xaxis: xa, yaxis: ya,
    name:'PRS', legend: legA, legendrank: 2, line: {color: '#FFA500', width: 4.5}});
  traces.push({type:'scatter', mode:'lines', x: avgX, y: avgY, xaxis: xa, yaxis: ya,
    name:'PhyNet Avg.', legend: legB, legendrank: 1, line: {color: 'rgba(255,40,40,0.82)', width: 4}});

  const axCommon = {showgrid: true, gridcolor: GRID, gridwidth: 1, zeroline: false, showline: true,
    linecolor: GRID, linewidth: 1.2, mirror: true, ticks: '', automargin: false, fixedrange: true,
    tickfont: {family: FONT, size: 13, color: TXT}};
  layout['xaxis' + sfx] = Object.assign({}, axCommon, {domain: [px2x(L), px2x(R)], anchor: ya,
    range: [-0.05 * (n - 1), 1.05 * (n - 1)], tick0: 0, dtick: XDTICK[i], ticklabelstandoff: -4,
    title: {text: 'Particle Index', font: {family: FONT, size: 14, color: TXT}, standoff: 0}});
  layout['yaxis' + sfx] = Object.assign({}, axCommon, {domain: [px2y(B), px2y(T)], anchor: xa,
    range: YRANGE[i], tick0: 0, dtick: YDTICK[i], tickformat: YDTICK[i] === 2.5 ? '.1f' : '',
    title: {text: 'Drag Force', font: {family: FONT, size: 14, color: TXT}, standoff: 0}});

  // legend frame
  const boxTop = T - 45, boxBot = T - 2.5;
  layout.shapes.push({type:'path', xref:'paper', yref:'paper', path: rrect(L, boxTop, R, boxBot, 3),
    line: {color: '#cccccc', width: 1}, fillcolor: 'rgba(255,255,255,0.9)', layer: 'above'});
  const legCommon = {xanchor:'left', yanchor:'top', bgcolor:'rgba(0,0,0,0)', borderwidth: 0,
    font: {family: FONT, size: 13, color: TXT}, itemwidth: 30, orientation: 'v', tracegroupgap: 0,
    y: px2y(boxTop - 4.3), itemclick: false, itemdoubleclick: false};
  layout[legA] = Object.assign({}, legCommon, {x: px2x(L + 1)});
  layout[legB] = Object.assign({}, legCommon, {x: px2x(L + 134)});

  // caption
  const col = i % 4, row = Math.floor(i / 4);
  layout.annotations.push({xref:'paper', yref:'paper', x: px2x(CAP_X[col]), y: px2y(CAP_Y[row]),
    xanchor:'center', yanchor:'middle', showarrow: false,
    text: `(${letter})\u2002<i>Re</i>\u2004=\u2004${panel_re[i]}, <i>\u03d5</i>\u2004=\u2004${panel_phi[i]}`,
    font: {family: 'Liberation Serif', size: 25, color: '#000'}});
});

Plotly.newPlot('chart', traces, layout, {staticPlot: true, displayModeBar: false});
</script>
</body></html>
